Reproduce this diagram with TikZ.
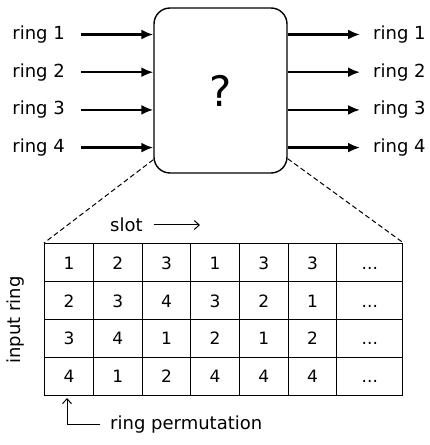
\documentclass[tikz,border=0pt]{standalone}
\usepackage{fontspec}
\setmainfont{DejaVu Sans}
\usepackage{tikz}
\usetikzlibrary{arrows.meta,positioning,matrix}
\tikzstyle{blackbox} = [draw, rounded corners=16pt, line width=1.4pt, minimum width=133pt, minimum height=165pt, inner sep=0pt, font=\fontsize{42}{48}\selectfont]
\tikzstyle{textonly} = [draw=none, fill=none, inner sep=0pt, text centered, font=\fontsize{18}{21}\selectfont]
\tikzstyle{tedge}  = [draw, line width=2.2pt, -{Latex[length=12pt,width=10pt]}]
\tikzstyle{thinedge}  = [draw, line width=1pt, -{Straight Barb[length=5pt,width=9pt]}]
\tikzstyle{zoomedge} = [draw, line width=1pt, dash pattern=on 5pt off 3pt]
\tikzstyle{cell} = [draw, anchor=center, line width=1.2pt, minimum width=48.67pt, minimum height=38pt, inner sep=0pt, text height=12.4pt, text depth=0pt, font=\fontsize{17}{20}\selectfont]

\begin{document}
\begin{tikzpicture}[x=1pt, y=1pt]
\useasboundingbox (0,0) rectangle (430,445);

% box =============================

\node[blackbox] (box) at (220.5,354.5) {?};

% nodes
\node[textonly, anchor=east] (in1) at (65,410.5) {ring 1};
\node[textonly, on grid, below=37.7pt of in1] (in2) {ring 2};
\node[textonly, on grid, below=37.7pt of in2] (in3) {ring 3};
\node[textonly, on grid, below=37.7pt of in3] (in4) {ring 4};
\node[textonly, anchor=west] (out1) at (373,410.5) {ring 1};
\node[textonly, on grid, below=37.7pt of out1] (out2) {ring 2};
\node[textonly, on grid, below=37.7pt of out2] (out3) {ring 3};
\node[textonly, on grid, below=37.7pt of out3] (out4) {ring 4};

% edges
\path[tedge] ([xshift=16pt]in1.east) -- (in1 -| box.west);
\path[tedge] ([xshift=16pt]in2.east) -- (in2 -| box.west);
\path[tedge] ([xshift=16pt]in3.east) -- (in3 -| box.west);
\path[tedge] ([xshift=16pt]in4.east) -- (in4 -| box.west);
\path[tedge] (out1 -| box.east) -- ([xshift=-13pt]out1.west);
\path[tedge] (out2 -| box.east) -- ([xshift=-13pt]out2.west);
\path[tedge] (out3 -| box.east) -- ([xshift=-13pt]out3.west);
\path[tedge] (out4 -| box.east) -- ([xshift=-13pt]out4.west);

% table =============================

\matrix[matrix of nodes, nodes={cell}, inner sep=0pt, column sep=-1.2pt, row sep=-1.2pt,
        column 7/.style={nodes={minimum width=66pt}}, anchor=north west] (tab) at (44,202) {
1 & 2 & 3 & 1 & 3 & 3 & ... \\
2 & 3 & 4 & 3 & 2 & 1 & ... \\
3 & 4 & 1 & 2 & 1 & 2 & ... \\
4 & 1 & 2 & 4 & 4 & 4 & ... \\
};

% zoom lines
\path[zoomedge] ([yshift=14pt]box.south west) -- (tab.north west);
\path[zoomedge] ([yshift=15pt]box.south east) -- (tab.north east);

% labels
\node[textonly, anchor=west] (slot) at (110,220) {slot};
\coordinate[right=90pt of slot.west] (slotend);
\path[thinedge] ([xshift=11pt]slot.east) -- (slotend);
\node[textonly, rotate=90] (inring) at (15.5,125) {input ring};
\node[textonly, anchor=west] (rperm) at (110,20) {ring permutation};
\coordinate (permtip) at (67,47);
\path[thinedge] ([xshift=-10pt]rperm.west) -| (permtip);

\end{tikzpicture}
\end{document}
